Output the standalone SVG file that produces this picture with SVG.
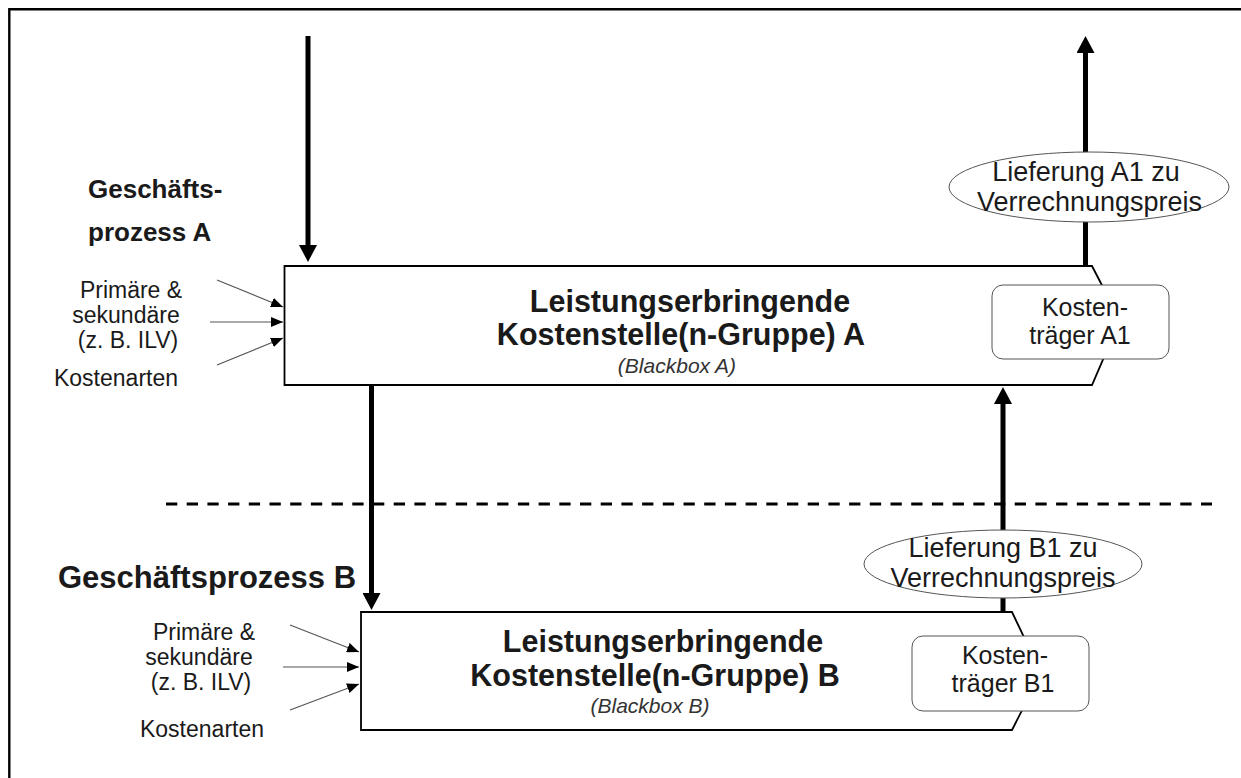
<svg xmlns="http://www.w3.org/2000/svg" width="1241" height="778" viewBox="0 0 1241 778">
  <defs>
    <!-- heavy flow arrowhead; line ends at the head's base -->
    <marker id="big" viewBox="0 0 17 18" markerWidth="17" markerHeight="18" refX="0" refY="9" orient="auto" markerUnits="userSpaceOnUse">
      <path d="M0,0 L17,9 L0,18 Z" fill="#000"/>
    </marker>
    <marker id="small" viewBox="0 0 12 10" markerWidth="12" markerHeight="10" refX="12" refY="5" orient="auto" markerUnits="userSpaceOnUse">
      <path d="M0,0 L12,5 L0,10 Z" fill="#000"/>
    </marker>
  </defs>
  <style>
    text { font-family: "Liberation Sans", Arial, sans-serif; fill: #1a1a1a; }
    .bold { font-weight: bold; font-size: 26px; }
    .title { font-weight: bold; font-size: 30.5px; text-anchor: middle; }
    .sub { font-style: italic; font-size: 21px; text-anchor: middle; fill: #333; }
    .lbl { font-size: 23px; text-anchor: middle; }
    .unit { font-size: 25px; text-anchor: middle; }
    .dlv { font-size: 27px; text-anchor: middle; }
    .box { fill: #fff; stroke: #000; stroke-width: 1.8; }
    .cap { fill: #fff; stroke: #555; stroke-width: 1; }
    .thick { stroke: #000; stroke-width: 5; fill: none; marker-end: url(#big); }
    .thin { stroke: #555; stroke-width: 1.2; fill: none; marker-end: url(#small); }
  </style>
  <rect width="1241" height="778" fill="#fff"/>
  <!-- frame: top and left edges only -->
  <path d="M9.3,778 L9.3,9.3 L1241,9.3" fill="none" stroke="#000" stroke-width="2.4"/>
  <!-- dashed divider between the two processes -->
  <line x1="166" y1="504" x2="1212" y2="504" stroke="#000" stroke-width="3" stroke-dasharray="11.3,9.4"/>

  <g id="connectors">
    <line class="thick" x1="308" y1="36" x2="308" y2="245"/>
    <line class="thick" x1="1085.5" y1="265" x2="1085.5" y2="53"/>
    <line class="thick" x1="371.5" y1="386" x2="371.5" y2="593"/>
    <line class="thick" x1="1003" y1="612" x2="1003" y2="404"/>
    <line class="thin" x1="217" y1="280" x2="283" y2="307"/>
    <line class="thin" x1="210" y1="322" x2="283" y2="322"/>
    <line class="thin" x1="217" y1="365" x2="283" y2="338"/>
    <line class="thin" x1="290" y1="625" x2="359" y2="652"/>
    <line class="thin" x1="283" y1="667" x2="359" y2="667"/>
    <line class="thin" x1="290" y1="710" x2="359" y2="684"/>
  </g>

  <g id="process-a">
    <text class="bold" x="88" y="198">Geschäfts-</text>
    <text class="bold" x="88" y="241">prozess A</text>
  </g>
  <g id="inputs-a">
    <text class="lbl" x="131" y="298">Primäre &amp;</text>
    <text class="lbl" x="126" y="323">sekundäre</text>
    <text class="lbl" x="128" y="348">(z. B. ILV)</text>
    <text class="lbl" x="116" y="386">Kostenarten</text>
  </g>
  <g id="cost-center-a">
    <path class="box" d="M284.5,266 L1092,266 L1120,320 L1092,385 L284.5,385 Z"/>
    <text class="title" x="690" y="312">Leistungserbringende</text>
    <text class="title" x="681" y="345">Kostenstelle(n-Gruppe) A</text>
    <text class="sub" x="677" y="373">(Blackbox A)</text>
  </g>
  <g id="cost-unit-a">
    <rect class="cap" x="992" y="285" width="177" height="74" rx="11"/>
    <text class="unit" x="1085" y="316">Kosten-</text>
    <text class="unit" x="1080" y="344">träger A1</text>
  </g>
  <g id="delivery-a">
    <ellipse class="cap" cx="1089" cy="187" rx="140" ry="35"/>
    <text class="dlv" x="1086" y="181">Lieferung A1 zu</text>
    <text class="dlv" x="1089.5" y="211">Verrechnungspreis</text>
  </g>

  <g id="process-b">
    <text class="bold" x="58" y="588" style="font-size:31px">Geschäftsprozess B</text>
  </g>
  <g id="inputs-b">
    <text class="lbl" x="204" y="640">Primäre &amp;</text>
    <text class="lbl" x="199" y="665">sekundäre</text>
    <text class="lbl" x="201" y="690">(z. B. ILV)</text>
    <text class="lbl" x="202" y="737">Kostenarten</text>
  </g>
  <g id="cost-center-b">
    <path class="box" d="M361,612 L1012,612 L1041,673 L1012,730 L361,730 Z"/>
    <text class="title" x="663" y="652">Leistungserbringende</text>
    <text class="title" x="655" y="686">Kostenstelle(n-Gruppe) B</text>
    <text class="sub" x="650" y="713">(Blackbox B)</text>
  </g>
  <g id="cost-unit-b">
    <rect class="cap" x="912" y="636" width="177" height="75" rx="11"/>
    <text class="unit" x="1005" y="664">Kosten-</text>
    <text class="unit" x="1003" y="692">träger B1</text>
  </g>
  <g id="delivery-b">
    <ellipse class="cap" cx="1003" cy="564" rx="139" ry="34"/>
    <text class="dlv" x="1003" y="557">Lieferung B1 zu</text>
    <text class="dlv" x="1003" y="587">Verrechnungspreis</text>
  </g>
</svg>
